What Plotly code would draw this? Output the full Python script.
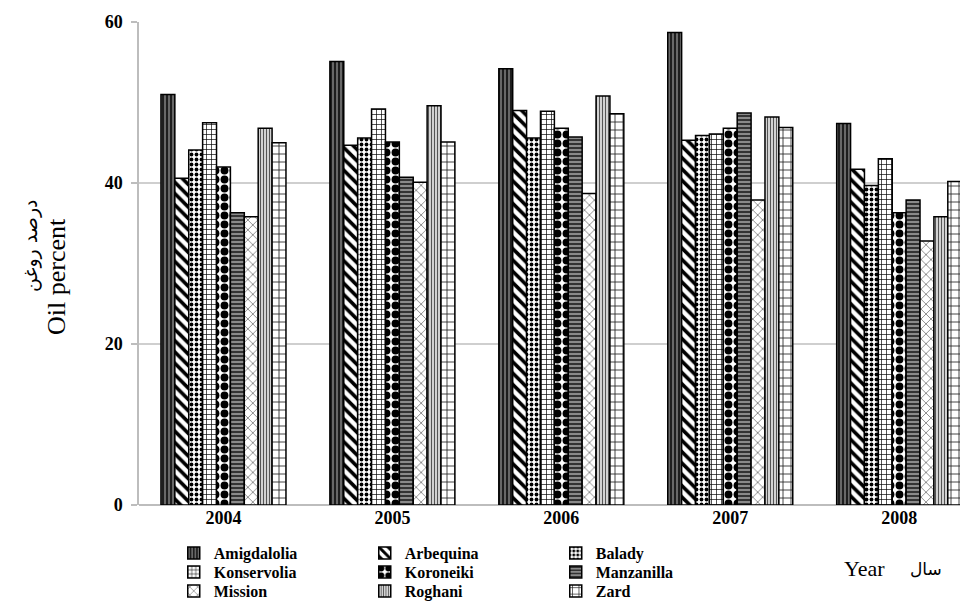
import plotly.graph_objects as go

# Oil percentage of olive cultivars by harvest year
years = ["2004", "2005", "2006", "2007", "2008"]

amigdalolia = [51.0, 55.1, 54.2, 58.7, 47.4]
arbequina = [40.6, 44.7, 49.0, 45.3, 41.7]
balady = [44.1, 45.6, 45.6, 45.9, 39.7]
konservolia = [47.5, 49.2, 48.9, 46.1, 43.0]
koroneiki = [42.0, 45.1, 46.8, 46.8, 36.3]
manzanilla = [36.3, 40.7, 45.7, 48.7, 37.9]
mission = [35.8, 40.1, 38.7, 37.9, 32.8]
roghani = [46.8, 49.6, 50.8, 48.2, 35.8]
zard = [45.0, 45.1, 48.6, 46.9, 40.2]

y_ticks = [0, 20, 40, 60]

SERIF = "Liberation Serif, Times New Roman, DejaVu Serif, serif"
ARABIC = "DejaVu Sans, Noto Sans"

W, H = 960, 601
M_L, M_R, M_T, M_B = 139, 0, 22, 96


def px_to_paper(px, py):
    """Convert page pixel position to paper coordinates of the plot area."""
    pw = W - M_L - M_R
    ph = H - M_T - M_B
    return (px - M_L) / pw, (H - M_B - py) / ph


# (name, values, pattern style, legend row)
series = [
    ("Amigdalolia", amigdalolia, dict(shape="|", bgcolor="#1e1e1e", fgcolor="#9a9a9a", size=4, solidity=0.3), "legend"),
    ("Arbequina", arbequina, dict(shape="\\", bgcolor="white", fgcolor="black", size=8, solidity=0.45), "legend"),
    ("Balady", balady, dict(shape=".", bgcolor="white", fgcolor="black", size=5, solidity=0.45), "legend"),
    ("Konservolia", konservolia, dict(shape="+", bgcolor="white", fgcolor="black", size=5, solidity=0.25), "legend2"),
    ("Koroneiki", koroneiki, dict(shape=".", bgcolor="white", fgcolor="black", size=9, solidity=0.6), "legend2"),
    ("Manzanilla", manzanilla, dict(shape="-", bgcolor="#8a8a8a", fgcolor="#1e1e1e", size=4, solidity=0.4), "legend2"),
    ("Mission", mission, dict(shape="x", bgcolor="white", fgcolor="#333333", size=7, solidity=0.15), "legend3"),
    ("Roghani", roghani, dict(shape="|", bgcolor="#e0e0e0", fgcolor="#555555", size=3, solidity=0.4), "legend3"),
    ("Zard", zard, dict(shape="+", bgcolor="white", fgcolor="#222222", size=8, solidity=0.2), "legend3"),
]

fig = go.Figure()
for name, vals, pat, leg in series:
    fig.add_trace(go.Bar(
        name=name,
        x=years,
        y=vals,
        legend=leg,
        marker=dict(
            color=pat["bgcolor"],
            pattern=dict(shape=pat["shape"], fgcolor=pat["fgcolor"], bgcolor=pat["bgcolor"],
                         size=pat["size"], solidity=pat["solidity"], fillmode="replace"),
            line=dict(color="black", width=1.5),
        ),
    ))

# one horizontal legend per row, three entries each
legend_style = dict(
    orientation="h",
    xref="container",
    yref="container",
    x=0.181,
    xanchor="left",
    yanchor="middle",
    font=dict(family=SERIF, size=16, color="black", weight="bold"),
    bgcolor="rgba(0,0,0,0)",
    itemwidth=30,
    entrywidth=146,
    entrywidthmode="pixels",
    traceorder="normal",
)

ax_p, ay_p = px_to_paper(31, 246)
bx_p, by_p = px_to_paper(56, 277)
yx_p, yy_p = px_to_paper(864, 568)
sx_p, sy_p = px_to_paper(926, 569)

centered = dict(xref="paper", yref="paper", xanchor="center", yanchor="middle", showarrow=False)

fig.update_layout(
    width=W,
    height=H,
    margin=dict(l=M_L, r=M_R, t=M_T, b=M_B, autoexpand=False),
    paper_bgcolor="white",
    plot_bgcolor="white",
    barmode="group",
    bargap=0.26,
    bargroupgap=0,
    font=dict(family=SERIF, color="black"),
    legend=dict(legend_style, y=1 - 553 / H),
    legend2=dict(legend_style, y=1 - 572 / H),
    legend3=dict(legend_style, y=1 - 591 / H),
    xaxis=dict(
        range=[-0.5, 4.36],
        showline=False,
        showgrid=False,
        ticks="",
        tickfont=dict(family=SERIF, size=18, color="black", weight="bold"),
    ),
    yaxis=dict(
        range=[0, 60],
        tickvals=y_ticks,
        showline=True,
        linecolor="#bdbdbd",
        linewidth=1.5,
        showgrid=True,
        gridcolor="#cfcfcf",
        gridwidth=1.5,
        zeroline=True,
        zerolinecolor="#bdbdbd",
        zerolinewidth=1.5,
        ticks="outside",
        ticklen=6,
        tickcolor="#bdbdbd",
        tickwidth=1.5,
        ticklabelstandoff=5,
        tickfont=dict(family=SERIF, size=18, color="black", weight="bold"),
    ),
    annotations=[
        dict(centered, text="درصد روغن", x=ax_p, y=ay_p, textangle=-90,
             font=dict(family=ARABIC, size=19, color="black")),
        dict(centered, text="Oil percent", x=bx_p, y=by_p, textangle=-90,
             font=dict(family=SERIF, size=26, color="black")),
        dict(centered, text="Year", x=yx_p, y=yy_p,
             font=dict(family=SERIF, size=22, color="black")),
        dict(centered, text="سال", x=sx_p, y=sy_p,
             font=dict(family=ARABIC, size=17, color="black")),
    ],
)

fig.write_html("out.html")
